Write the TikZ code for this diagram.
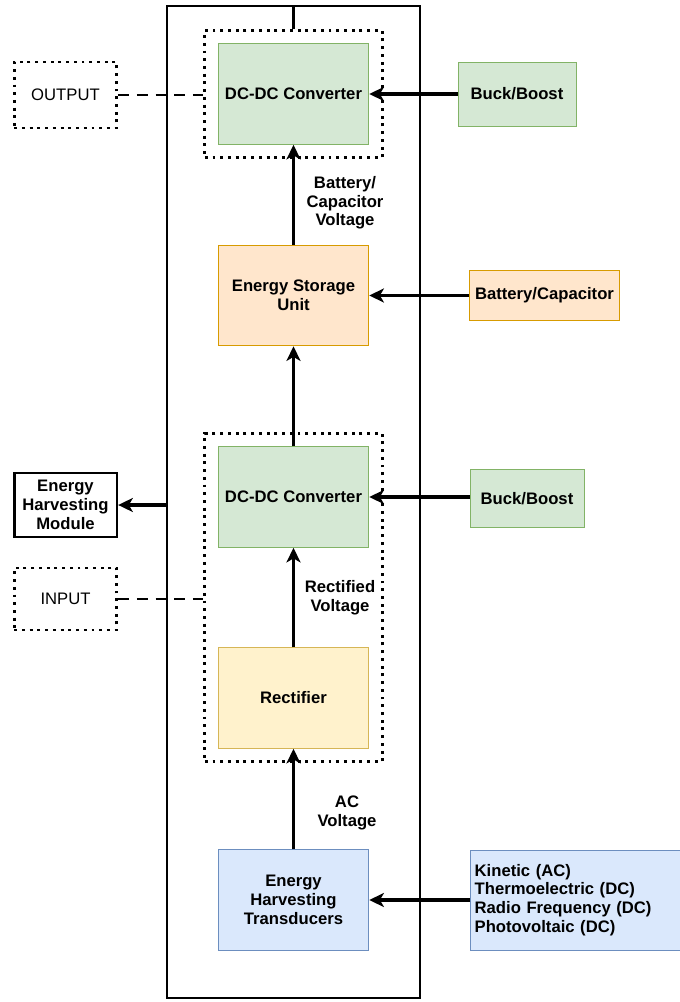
\documentclass[tikz,border=0pt]{standalone}
\usepackage{fontspec}
\setmainfont{Liberation Sans}
\usetikzlibrary{arrows.meta,positioning,fit}

\definecolor{grnfill}{HTML}{D5E8D4}
\definecolor{grnline}{HTML}{82B366}
\definecolor{orgfill}{HTML}{FFE6CC}
\definecolor{orgline}{HTML}{D79B00}
\definecolor{ylwfill}{HTML}{FFF2CC}
\definecolor{ylwline}{HTML}{D6B656}
\definecolor{bluefill}{HTML}{DAE8FC}
\definecolor{blueline}{HTML}{6C8EBF}

\begin{document}
\begin{tikzpicture}[
    x=0.75pt, y=-0.75pt,
    font=\fontsize{12.5}{14}\selectfont\bfseries,
    >={Stealth[length=11pt,width=10.5pt,inset=3pt]},
    unit/.style={rectangle, minimum width=113pt, minimum height=75.5pt, align=center, inner sep=1pt, line width=0.6pt},
    conv/.style={unit, draw=grnline, fill=grnfill},
    store/.style={unit, draw=orgline, fill=orgfill},
    rect/.style={unit, draw=ylwline, fill=ylwfill},
    trans/.style={unit, draw=blueline, fill=bluefill},
    side/.style={rectangle, align=center, inner sep=1pt, line width=0.6pt},
    port/.style={rectangle, draw, line width=2.2pt, dash pattern=on 2.2pt off 3.6pt, minimum width=77pt, align=center, font=\fontsize{12.5}{14}\selectfont},
    group/.style={rectangle, draw, line width=2.2pt, dash pattern=on 2.2pt off 3.6pt, inner sep=9.75pt},
    lbl/.style={align=center, inner sep=0pt},
    feed/.style={->, line width=2.6pt},
    flow/.style={->, line width=2pt},
    link/.style={line width=2pt, dash pattern=on 8pt off 6pt}
]
\useasboundingbox (0,0) rectangle (679,1002);

% module frame
\node[draw, line width=2pt, minimum width=189.75pt, minimum height=744pt] (frame) at (293.5,502) {};

% main chain
\node[conv] (dcout) at (293.5,94) {DC-DC Converter};
\node[store] (esu) at (293.5,295.5) {Energy Storage\\Unit};
\node[conv] (dcin) at (293.5,497) {DC-DC Converter};
\node[rect] (rectifier) at (293.5,698) {Rectifier};
\node[trans] (ehtrans) at (293.5,900) {Energy\\Harvesting\\Transducers};

% groups
\node[group, fit=(dcout)] (outgrp) {};
\node[group, fit=(dcin)(rectifier)] (ingrp) {};

% right hand side
\node[side, draw=grnline, fill=grnfill, minimum width=88.5pt, minimum height=48pt] (buck1) at (517,94) {Buck/Boost};
\node[side, draw=orgline, fill=orgfill, minimum width=113pt, minimum height=38pt] (battery) at (544.5,295.5) {Battery/Capacitor};
\node[side, draw=grnline, fill=grnfill, minimum width=85.5pt, minimum height=43pt] (buck2) at (527,498.5) {Buck/Boost};
\node[side, draw=blueline, fill=bluefill, minimum width=158pt, minimum height=75pt, align=left, text width=152pt] (sources) at (576,900) {Kinetic (AC)\\Thermoelectric (DC)\\Radio Frequency (DC)\\Photovoltaic (DC)};

% left hand side
\node[port, minimum height=49.5pt] (output) at (65.5,95) {OUTPUT};
\node[rectangle, draw, line width=2pt, minimum width=77pt, minimum height=48pt, align=center, inner sep=1pt] (ehm) at (65.5,505) {Energy\\Harvesting\\Module};
\node[port, minimum height=46.5pt] (input) at (65.5,599) {INPUT};

% voltage labels
\node[lbl] (vbat) at (345,203) {Battery/\\Capacitor\\Voltage};
\node[lbl] (vrect) at (340,598) {Rectified\\Voltage};
\node[lbl] (vac) at (347,813) {AC\\Voltage};

% connections
\draw[line width=2pt] (outgrp.north) -- (outgrp.north |- frame.north);
\draw[flow] (esu) -- (dcout);
\draw[flow] (dcin) -- (esu);
\draw[flow] (rectifier) -- (dcin);
\draw[flow] (ehtrans) -- (rectifier);

\draw[feed] (buck1) -- (dcout);
\draw[feed] (battery) -- (esu);
\draw[feed] (buck2.west |- dcin.east) -- (dcin.east);
\draw[feed] (sources) -- (ehtrans);

\draw[feed] (ehm.east -| frame.west) -- (ehm.east);
\draw[link] (output.east) -- (output.east -| outgrp.west);
\draw[link] (input.east) -- (input.east -| ingrp.west);

\end{tikzpicture}
\end{document}
